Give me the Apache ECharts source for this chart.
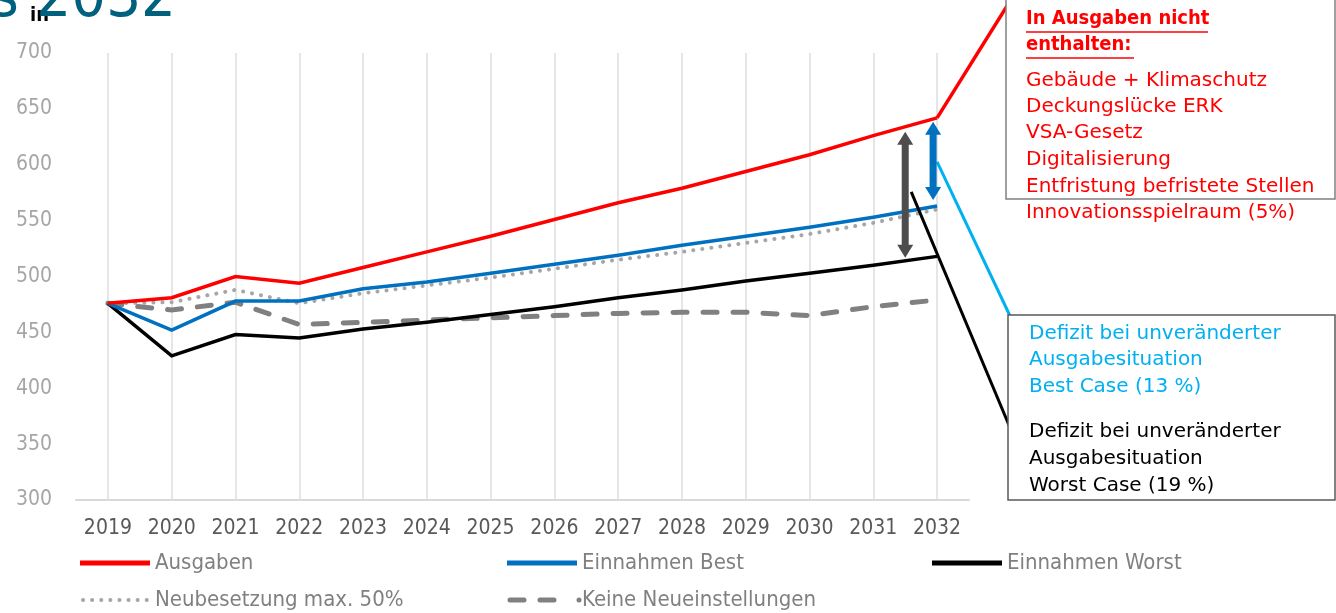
<!DOCTYPE html>
<html><head><meta charset="utf-8">
<script src="https://cdn.jsdelivr.net/npm/echarts@6/dist/echarts.min.js"></script>
<style>html,body{margin:0;padding:0;background:#fff}#c{width:1336px;height:613px}</style>
</head><body><div id="c"></div>
<script>
const years = ['2019','2020','2021','2022','2023','2024','2025','2026','2027','2028','2029','2030','2031','2032'];
const ausgaben = [476,481,500,494,508,522,536,551,566,579,594,609,626,642];
const einnahmenBest = [476,452,478,478,489,495,503,511,519,528,536,544,553,563];
const einnahmenWorst = [476,429,448,445,453,459,466,473,481,488,496,503,510,518];
const neubesetzung = [476,477,488,476,485,492,499,507,515,522,530,538,548,560];
const keineNeu = [476,470,477,457,459,461,463,465,467,468,468,465,473,479];
const yTicks = {min:300,max:700,interval:50};
const boxRed = ['In Ausgaben nicht','enthalten:','Gebäude + Klimaschutz','Deckungslücke ERK','VSA-Gesetz','Digitalisierung','Entfristung befristete Stellen','Innovationsspielraum (5%)'];
const boxBest = ['Defizit bei unveränderter','Ausgabesituation','Best Case (13 %)'];
const boxWorst = ['Defizit bei unveränderter','Ausgabesituation','Worst Case (19 %)'];
const names = ['Ausgaben','Einnahmen Best','Einnahmen Worst','Neubesetzung max. 50%','Keine Neueinstellungen'];

const FONT = '"DejaVu Sans Condensed","DejaVu Sans",sans-serif';
const FONT2 = '"DejaVu Sans",sans-serif';
const chart = echarts.init(document.getElementById('c'));
const styles = [
  {color:'#FF0000',width:3.5,type:'solid',cap:'butt'},
  {color:'#0070C0',width:3.5,type:'solid',cap:'butt'},
  {color:'#000000',width:3.5,type:'solid',cap:'butt'},
  {color:'#A6A6A6',width:4,type:[0.1,9],cap:'round'},
  {color:'#808080',width:5,type:[14,16],cap:'round'}
];
const seriesData = [ausgaben,einnahmenBest,einnahmenWorst,neubesetzung,keineNeu];
const zs = [6,5,4,2,3];
chart.setOption({
  animation:false,
  textStyle:{fontFamily:FONT},
  grid:{left:76,right:367,top:53,bottom:113},
  xAxis:{type:'category',data:years,boundaryGap:true,
    axisLine:{lineStyle:{color:'#D9D9D9',width:2}},axisTick:{show:false},
    axisLabel:{color:'#595959',fontSize:21,margin:18,fontFamily:FONT},
    splitLine:{show:true,alignWithLabel:true,lineStyle:{color:'#E6E6E6',width:2}}},
  yAxis:{type:'value',min:yTicks.min,max:yTicks.max,interval:yTicks.interval,
    axisLine:{show:false},axisTick:{show:false},splitLine:{show:false},
    axisLabel:{color:'#A6A6A6',fontSize:21,margin:24,fontFamily:FONT}},
  series:names.map((n,i)=>({name:n,type:'line',data:seriesData[i],symbol:'none',z:zs[i],
    lineStyle:{color:styles[i].color,width:styles[i].width,type:styles[i].type,cap:styles[i].cap,join:'miter'},
    itemStyle:{color:styles[i].color}}))
});

function px(i,v){return chart.convertToPixel({gridIndex:0},[i,v]);}
function dblArrow(x,y1,y2,color,w,hw,hl){
  return {type:'polygon',z:20,shape:{points:[[x,y1],[x+hw,y1+hl],[x+w/2,y1+hl],[x+w/2,y2-hl],[x+hw,y2-hl],[x,y2],[x-hw,y2-hl],[x-w/2,y2-hl],[x-w/2,y1+hl],[x-hw,y1+hl]]},style:{fill:color}};
}
const n = years.length-1;
const pA = px(n,ausgaben[n]);
const pB = px(n,einnahmenBest[n]);
const pA31 = px(n-1,ausgaben[n-1]);
const pW = px(n,einnahmenWorst[n]);
const pW31 = px(n-1,einnahmenWorst[n-1]);
const gx = pA31[0] + (pA[0]-pA31[0])*0.5;
const gyTop = pA31[1] + (pA[1]-pA31[1])*0.5 + 5;
const gyBot = pW31[1] + (pW[1]-pW31[1])*0.5 - 3;
const bx = pA[0]-4;
const graphics = [
  {type:'text',z:30,left:30,top:6,style:{text:'in',fill:'#000',font:'bold 20px '+FONT}},
  {type:'text',z:31,x:176,y:31,style:{text:'s 2032',fill:'#00617F',font:'61px '+FONT,textAlign:'right',textVerticalAlign:'bottom'}},
  dblArrow(gx,gyTop,gyBot,'#4D4D4D',7,8,13),
  dblArrow(bx,pA[1]+4,pB[1]-6,'#0070C0',7,8,13),
  {type:'line',z:19,shape:{x1:pA[0],y1:pA[1],x2:1012,y2:-2},style:{stroke:'#FF0000',lineWidth:3.5}},
  {type:'line',z:19,shape:{x1:pA[0],y1:(pA[1]+pB[1])/2,x2:1011,y2:318},style:{stroke:'#00B0F0',lineWidth:3}},
  {type:'line',z:19,shape:{x1:gx+6,y1:(gyTop+gyBot)/2-3,x2:1011,y2:430},style:{stroke:'#000',lineWidth:3}},
  {type:'rect',z:21,shape:{x:1006,y:-5,width:329,height:204},style:{fill:'#fff',stroke:'#808080',lineWidth:1.5}},
  {type:'rect',z:21,shape:{x:1008,y:315,width:327,height:185},style:{fill:'#fff',stroke:'#595959',lineWidth:1.5}}
];
const redLineY = [19,45,81,107,133,160,187,213];
boxRed.forEach((t,i)=>{
  graphics.push({type:'text',z:22,x:1026,y:redLineY[i],style:{text:t,fill:'#FF0000',font:(i<2?'bold 20px '+FONT:'20px '+FONT2),textVerticalAlign:'middle'}});
});
graphics.push({type:'line',z:22,shape:{x1:1026,y1:32,x2:1208,y2:32},style:{stroke:'#FF0000',lineWidth:1.5}});
graphics.push({type:'line',z:22,shape:{x1:1026,y1:58,x2:1134,y2:58},style:{stroke:'#FF0000',lineWidth:1.5}});
const bestY=[334,360,387], worstY=[432,459,486];
boxBest.forEach((t,i)=>graphics.push({type:'text',z:22,x:1029,y:bestY[i],style:{text:t,fill:'#00B0F0',font:'20px '+FONT2,textVerticalAlign:'middle'}}));
boxWorst.forEach((t,i)=>graphics.push({type:'text',z:22,x:1029,y:worstY[i],style:{text:t,fill:'#000',font:'20px '+FONT2,textVerticalAlign:'middle'}}));
// legend (manual, Excel-like)
const legendPos = [[80,563],[507,563],[932,563],[80,600],[507,600]];
names.forEach((nm,i)=>{
  const [lx,ly] = legendPos[i];
  const s = styles[i];
  graphics.push({type:'line',z:22,shape:{x1:lx+(s.cap==='round'?3:0),y1:ly,x2:lx+(i===4?52:70),y2:ly},style:{stroke:s.color,lineWidth:i<3?5:s.width,lineDash:Array.isArray(s.type)?s.type:null,lineCap:s.cap}});
  if(i===4) graphics.push({type:'circle',z:22,shape:{cx:lx+72,cy:ly,r:2.5},style:{fill:s.color}});
  graphics.push({type:'text',z:22,x:lx+75,y:ly,style:{text:nm,fill:'#808080',font:'22px '+FONT,textVerticalAlign:'middle'}});
});
chart.setOption({graphic:graphics});
</script></body></html>
